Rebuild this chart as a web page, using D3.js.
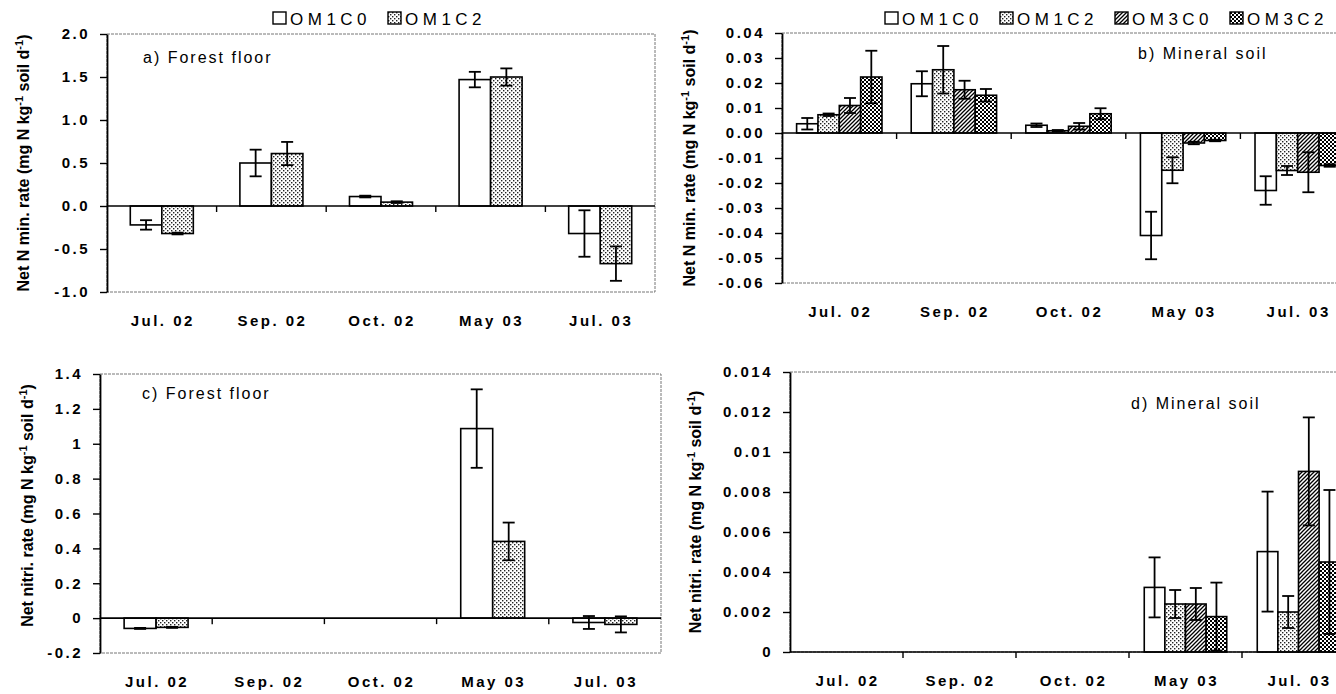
<!DOCTYPE html>
<html>
<head>
<meta charset="utf-8">
<script src="https://cdn.jsdelivr.net/npm/d3@7"></script>
<style>
  body { margin: 0; background: #fff; }
  svg { display: block; font-family: "Liberation Sans", Arial, sans-serif; }
</style>
</head>
<body>
<script>
// categories / series
const categories = ["Jul. 02", "Sep. 02", "Oct. 02", "May 03", "Jul. 03"];
const seriesFloor = ["OM1C0", "OM1C2"];
const seriesMineral = ["OM1C0", "OM1C2", "OM3C0", "OM3C2"];

// a) net N mineralization, forest floor (rows follow seriesFloor)
const minFloorValues = [
  [-0.22, 0.50, 0.11, 1.47, -0.32],
  [-0.32, 0.61, 0.045, 1.50, -0.67]
];
const minFloorErrors = [
  [0.055, 0.155, 0.01, 0.09, 0.27],
  [0.01, 0.135, 0.01, 0.10, 0.20]
];

// b) net N mineralization, mineral soil (rows follow seriesMineral)
const minSoilValues = [
  [0.0037, 0.0197, 0.0031, -0.041, -0.023],
  [0.0073, 0.0253, 0.0009, -0.0149, -0.015],
  [0.011, 0.0173, 0.0027, -0.004, -0.0157],
  [0.0224, 0.0151, 0.0077, -0.003, -0.013]
];
const minSoilErrors = [
  [0.0023, 0.005, 0.0007, 0.0095, 0.0057],
  [0.0005, 0.0095, 0.0003, 0.0052, 0.0018],
  [0.003, 0.0036, 0.0013, 0.0005, 0.008],
  [0.0105, 0.0025, 0.0022, 0.0003, 0.0005]
];

// c) net nitrification, forest floor
const nitFloorValues = [
  [-0.059, 0, 0, 1.087, -0.025],
  [-0.053, 0, 0, 0.44, -0.036]
];
const nitFloorErrors = [
  [0.003, 0, 0, 0.225, 0.037],
  [0.003, 0, 0, 0.108, 0.046]
];

// d) net nitrification, mineral soil
const nitSoilValues = [
  [0, 0, 0, 0.00323, 0.00502],
  [0, 0, 0, 0.0024, 0.0020],
  [0, 0, 0, 0.0024, 0.00903],
  [0, 0, 0, 0.00177, 0.0045]
];
const nitSoilErrors = [
  [0, 0, 0, 0.0015, 0.003],
  [0, 0, 0, 0.0007, 0.0008],
  [0, 0, 0, 0.0008, 0.0027],
  [0, 0, 0, 0.0017, 0.0036]
];

// tick labels
const ticksA = [-1, -0.5, 0, 0.5, 1, 1.5, 2];
const ticksB = [-0.06, -0.05, -0.04, -0.03, -0.02, -0.01, 0, 0.01, 0.02, 0.03, 0.04];
const ticksC = [-0.2, 0, 0.2, 0.4, 0.6, 0.8, 1, 1.2, 1.4];
const ticksD = [0, 0.002, 0.004, 0.006, 0.008, 0.01, 0.012, 0.014];

const fillFor = { OM1C0: "#fff", OM1C2: "url(#pat-dots)", OM3C0: "url(#pat-diag)", OM3C2: "url(#pat-check)" };
const fmt = f => d => d3.format(f)(d).replace("\u2212", "-");

const svg = d3.select("body").append("svg")
  .attr("width", 1336)
  .attr("height", 694);

// fill patterns
const defs = svg.append("defs");
let p = defs.append("pattern").attr("id", "pat-dots")
  .attr("patternUnits", "userSpaceOnUse").attr("width", 4).attr("height", 4);
p.append("rect").attr("width", 4).attr("height", 4).attr("fill", "#fff");
p.append("rect").attr("x", 0).attr("y", 0).attr("width", 1.4).attr("height", 1.4).attr("fill", "#222");
p.append("rect").attr("x", 2).attr("y", 2).attr("width", 1.4).attr("height", 1.4).attr("fill", "#222");

p = defs.append("pattern").attr("id", "pat-diag")
  .attr("patternUnits", "userSpaceOnUse").attr("width", 4).attr("height", 4);
p.append("rect").attr("width", 4).attr("height", 4).attr("fill", "#fff");
p.append("path").attr("d", "M-1,1 l2,-2 M0,4 l4,-4 M3,5 l2,-2")
  .attr("stroke", "#000").attr("stroke-width", 1.3);

p = defs.append("pattern").attr("id", "pat-check")
  .attr("patternUnits", "userSpaceOnUse").attr("width", 4).attr("height", 4);
p.append("rect").attr("width", 4).attr("height", 4).attr("fill", "#fff");
p.append("rect").attr("x", 0).attr("y", 0).attr("width", 2).attr("height", 2).attr("fill", "#000");
p.append("rect").attr("x", 2).attr("y", 2).attr("width", 2).attr("height", 2).attr("fill", "#000");

class BarPanel {

  constructor(_config, _values, _errors) {
    this.config = _config;
    this.values = _values;
    this.errors = _errors;
    this.initVis();
  }

  initVis() {
    let vis = this;
    const c = vis.config;
    vis.width = c.right - c.left;
    vis.height = c.bottom - c.top;

    vis.chart = svg.append("g")
      .attr("transform", `translate(${c.left},${c.top})`);

    // scales
    vis.x0 = d3.scaleBand().domain(categories).range([0, vis.width]);
    const n = c.series.length;
    vis.x1 = d3.scaleBand().domain(c.series)
      .range([0, vis.x0.bandwidth()])
      .paddingInner(0)
      .paddingOuter((n / c.fraction - n) / 2);
    vis.y = d3.scaleLinear().domain(c.yDomain).range([vis.height, 0]);

    // dotted plot-area frame
    vis.chart.append("rect")
      .attr("width", vis.width).attr("height", vis.height)
      .attr("fill", "none").attr("stroke", "#777")
      .attr("stroke-width", 1).attr("stroke-dasharray", "3,1");

    // flatten the data
    vis.data = [];
    c.series.forEach((s, i) => {
      categories.forEach((cat, j) => {
        vis.data.push({ s: s, cat: cat, v: vis.values[i][j], e: vis.errors[i][j] });
      });
    });
    const shown = vis.data.filter(d => d.v !== 0 || d.e !== 0);

    vis.chart.selectAll(".bar").data(shown).join("rect")
      .attr("class", "bar")
      .attr("x", d => vis.x0(d.cat) + vis.x1(d.s))
      .attr("width", vis.x1.bandwidth())
      .attr("y", d => vis.y(Math.max(0, d.v)))
      .attr("height", d => Math.abs(vis.y(d.v) - vis.y(0)))
      .attr("fill", d => fillFor[d.s])
      .attr("stroke", "#000").attr("stroke-width", 1.6);

    // error bars
    const errs = vis.chart.selectAll(".err").data(shown.filter(d => d.e > 0)).join("g")
      .attr("class", "err")
      .attr("transform", d => `translate(${vis.x0(d.cat) + vis.x1(d.s) + vis.x1.bandwidth() / 2},0)`);
    errs.append("line")
      .attr("y1", d => vis.y(d.v + d.e)).attr("y2", d => vis.y(d.v - d.e));
    errs.append("line").attr("x1", -6).attr("x2", 6)
      .attr("y1", d => vis.y(d.v + d.e)).attr("y2", d => vis.y(d.v + d.e));
    errs.append("line").attr("x1", -6).attr("x2", 6)
      .attr("y1", d => vis.y(d.v - d.e)).attr("y2", d => vis.y(d.v - d.e));
    errs.selectAll("line").attr("stroke", "#000").attr("stroke-width", 1.8);

    // category axis on the zero line, ticks at band edges
    const y0 = vis.y(0);
    vis.chart.append("line")
      .attr("x1", 0).attr("x2", vis.width).attr("y1", y0).attr("y2", y0)
      .attr("stroke", "#000").attr("stroke-width", 1.6);
    vis.chart.selectAll(".xtick").data(categories.slice(1)).join("line")
      .attr("class", "xtick")
      .attr("x1", d => vis.x0(d)).attr("x2", d => vis.x0(d))
      .attr("y1", y0).attr("y2", y0 + 6)
      .attr("stroke", "#000").attr("stroke-width", 1.4);

    vis.chart.selectAll(".xlab").data(categories).join("text")
      .attr("class", "xlab")
      .attr("x", d => vis.x0(d) + vis.x0.bandwidth() / 2 + 1)
      .attr("y", vis.height + 34)
      .attr("text-anchor", "middle")
      .style("font-size", "15px").style("font-weight", "bold")
      .style("letter-spacing", "2.5px")
      .text(d => d);

    // value axis
    vis.yAxis = d3.axisLeft(vis.y)
      .tickValues(c.ticks).tickFormat(c.format)
      .tickSize(7).tickSizeOuter(0).tickPadding(10);
    vis.yAxisG = vis.chart.append("g").call(vis.yAxis);
    vis.yAxisG.select(".domain").attr("stroke-width", 1.8);
    vis.yAxisG.selectAll(".tick line").attr("stroke-width", 1.4);
    vis.yAxisG.selectAll(".tick text")
      .attr("fill", "#000")
      .style("font-family", "'Liberation Sans', Arial, sans-serif")
      .style("font-size", "15px").style("font-weight", "bold")
      .style("letter-spacing", "2.5px");

    // rotated axis title with superscripts
    const lab = svg.append("text")
      .attr("transform", `translate(${c.labelX},${c.top + vis.height / 2 + c.labelShift}) rotate(-90)`)
      .attr("text-anchor", "middle")
      .style("font-size", "16px").style("font-weight", "bold");
    lab.append("tspan").text(c.yLabel + " (mg N kg");
    lab.append("tspan").attr("dy", -6).style("font-size", "11px").text("-1");
    lab.append("tspan").attr("dy", 6).text(" soil d");
    lab.append("tspan").attr("dy", -6).style("font-size", "11px").text("-1");
    lab.append("tspan").attr("dy", 6).text(")");

    // panel title
    svg.append("text")
      .attr("x", c.titleX).attr("y", c.titleY)
      .style("font-size", "16px").style("letter-spacing", "2px")
      .text(c.title);

    // legend
    if (c.legendX !== undefined) {
      const lg = svg.append("g").attr("transform", `translate(${c.legendX},12)`);
      const item = lg.selectAll("g").data(c.series).join("g")
        .attr("transform", (d, i) => `translate(${i * 115},0)`);
      item.append("rect")
        .attr("width", 13).attr("height", 12)
        .attr("fill", d => fillFor[d])
        .attr("stroke", "#000").attr("stroke-width", 1.4);
      item.append("text")
        .attr("x", 17).attr("y", 12.5)
        .style("font-size", "17px").style("letter-spacing", "4.5px")
        .text(d => d);
    }
  }
}

new BarPanel({
  left: 107, right: 655, top: 34, bottom: 292,
  series: seriesFloor, fraction: 0.575,
  yDomain: [-1, 2], ticks: ticksA, format: fmt(".1f"),
  yLabel: "Net N min. rate", labelX: 29, labelShift: 0,
  title: "a) Forest floor", titleX: 143, titleY: 63,
  legendX: 273
}, minFloorValues, minFloorErrors);

new BarPanel({
  left: 782, right: 1355, top: 33, bottom: 283,
  series: seriesMineral, fraction: 0.745,
  yDomain: [-0.06, 0.04], ticks: ticksB, format: fmt(".2f"),
  yLabel: "Net N min. rate", labelX: 695, labelShift: 0,
  title: "b) Mineral soil", titleX: 1138, titleY: 59,
  legendX: 885
}, minSoilValues, minSoilErrors);

new BarPanel({
  left: 100, right: 661, top: 374, bottom: 653,
  series: seriesFloor, fraction: 0.57,
  yDomain: [-0.2, 1.4], ticks: ticksC, format: fmt(".1~f"),
  yLabel: "Net nitri. rate", labelX: 33, labelShift: -8,
  title: "c) Forest floor", titleX: 142, titleY: 399
}, nitFloorValues, nitFloorErrors);

new BarPanel({
  left: 790, right: 1355, top: 372, bottom: 652,
  series: seriesMineral, fraction: 0.73,
  yDomain: [0, 0.014], ticks: ticksD, format: fmt(".3~f"),
  yLabel: "Net nitri. rate", labelX: 701, labelShift: 0,
  title: "d) Mineral soil", titleX: 1131, titleY: 409
}, nitSoilValues, nitSoilErrors);
</script>
</body>
</html>
